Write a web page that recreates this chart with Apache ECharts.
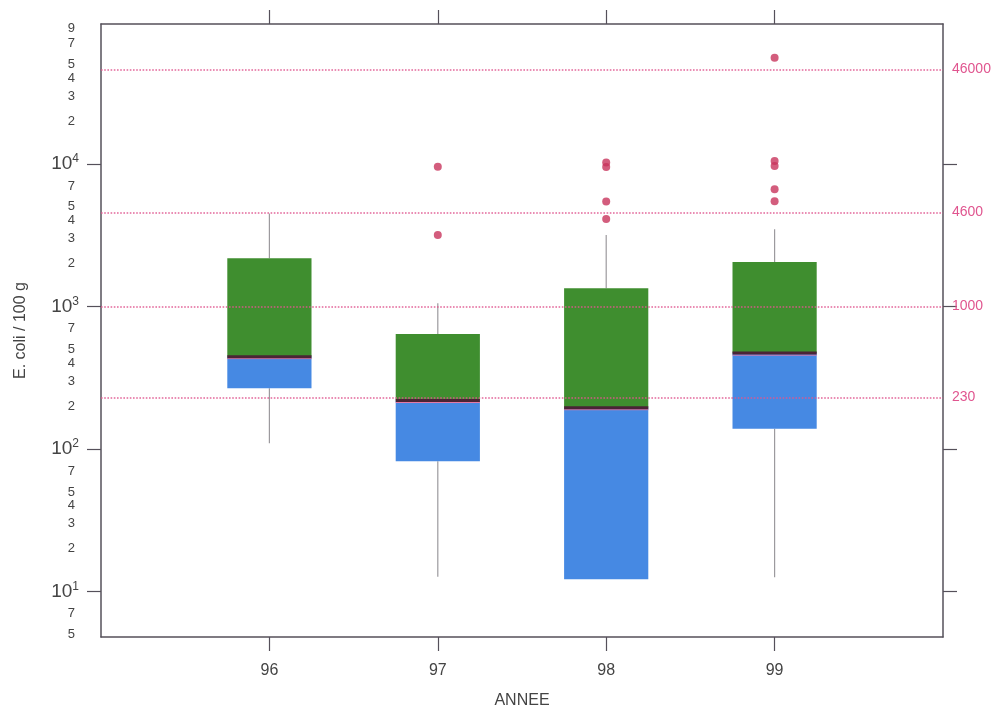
<!DOCTYPE html>
<html>
<head>
<meta charset="utf-8">
<script src="https://cdn.jsdelivr.net/npm/echarts@6/dist/echarts.min.js"></script>
<style>
  html, body { margin: 0; padding: 0; background: #ffffff; }
  #chart { width: 1003px; height: 714px; }
</style>
</head>
<body>
<div id="chart"></div>
<script>
// ---- data (raw values, E. coli / 100 g) ----
const categories = [96, 97, 98, 99];
const whiskerLow  = [110, 12.7, 12.2, 12.6];
const q1          = [267, 82, 12.2, 139];
const median      = [445, 219, 195, 471];
const q3          = [2180, 642, 1344, 2050];
const whiskerHigh = [4500, 1055, 3180, 3480];
const outlierYear  = [97, 97, 98, 98, 98, 98, 99, 99, 99, 99, 99];
const outlierValue = [9580, 3180, 10250, 9530, 5450, 4110, 55600, 10500, 9690, 6660, 5470];

const refValues = [230, 1000, 4600, 46000];            // dotted reference lines (right labels)
const leftTickLabels = [5, 7, 10, 20, 30, 40, 50, 70, 100, 200, 300, 400, 500, 700,
                        1000, 2000, 3000, 4000, 5000, 7000, 10000,
                        20000, 30000, 40000, 50000, 70000, 90000];
const decadeTicks = [10, 100, 1000, 10000];
const yRange = [4.8, 96000];
const xRange = [95, 100];

// ---- style ----
const GREEN = '#3f8e2f';
const BLUE = '#4689e3';
const MEDIAN = '#4a2436';
const PINK = '#e0558f';
const OUTLIER = '#c8345c';
const AXIS = '#55505a';
const TEXT = '#444444';
const BOX_WIDTH = 0.5;

const L = v => Math.log10(v);

const boxData = categories.map((c, i) => [c, L(whiskerLow[i]), L(q1[i]), L(median[i]), L(q3[i]), L(whiskerHigh[i])]);
const outlierData = outlierYear.map((c, i) => [c, L(outlierValue[i])]);

function renderBox(params, api) {
  const x = api.value(0);
  const lo = api.coord([x, api.value(1)]);
  const b1 = api.coord([x, api.value(2)]);
  const md = api.coord([x, api.value(3)]);
  const b3 = api.coord([x, api.value(4)]);
  const hi = api.coord([x, api.value(5)]);
  const w = api.size([BOX_WIDTH, 0])[0];
  const cx = lo[0];
  const wStyle = { stroke: '#9c9a9e', lineWidth: 1.2 };
  return {
    type: 'group',
    children: [
      { type: 'line', shape: { x1: cx, y1: b1[1], x2: cx, y2: lo[1] }, style: wStyle },
      { type: 'line', shape: { x1: cx, y1: b3[1], x2: cx, y2: hi[1] }, style: wStyle },
      { type: 'rect', shape: { x: cx - w / 2, y: md[1], width: w, height: b1[1] - md[1] }, style: { fill: BLUE } },
      { type: 'rect', shape: { x: cx - w / 2, y: b3[1], width: w, height: md[1] - b3[1] }, style: { fill: GREEN } },
      { type: 'line', shape: { x1: cx - w / 2, y1: md[1] + 2, x2: cx + w / 2, y2: md[1] + 2 }, style: { stroke: '#e67aa6', lineWidth: 1 } },
      { type: 'line', shape: { x1: cx - w / 2, y1: md[1], x2: cx + w / 2, y2: md[1] }, style: { stroke: MEDIAN, lineWidth: 3 } }
    ]
  };
}

function leftFormatter(v) {
  const raw = Math.round(Math.pow(10, v));
  const e = Math.floor(v + 1e-9);
  const mant = Math.round(raw / Math.pow(10, e));
  if (mant === 1) return '{b|10}{s|' + e + '}';
  return '{m|' + mant + '}';
}

const chart = echarts.init(document.getElementById('chart'));
chart.setOption({
  animation: false,
  backgroundColor: '#ffffff',
  textStyle: { fontFamily: 'Liberation Sans, Arial, sans-serif' },
  grid: { left: 101, width: 842, top: 24, height: 613 },
  xAxis: [
    {
      type: 'value', position: 'bottom', min: xRange[0], max: xRange[1],
      name: 'ANNEE', nameLocation: 'middle', nameGap: 56,
      nameTextStyle: { fontSize: 16, color: TEXT },
      axisLine: { show: true, lineStyle: { color: AXIS, width: 1.5 } },
      axisTick: { show: true, inside: false, length: 14, customValues: categories, lineStyle: { color: AXIS, width: 1.2 } },
      axisLabel: { customValues: categories, margin: 26, fontSize: 16, color: TEXT },
      splitLine: { show: false }
    },
    {
      type: 'value', position: 'top', min: xRange[0], max: xRange[1],
      axisLine: { show: true, lineStyle: { color: AXIS, width: 1.5 } },
      axisTick: { show: true, inside: false, length: 14, customValues: categories, lineStyle: { color: AXIS, width: 1.2 } },
      axisLabel: { show: false },
      splitLine: { show: false }
    }
  ],
  yAxis: [
    {
      type: 'value', position: 'left', min: L(yRange[0]), max: L(yRange[1]),
      name: 'E. coli / 100 g', nameLocation: 'middle', nameGap: 72, nameRotate: 90,
      nameTextStyle: { fontSize: 16, color: TEXT },
      axisLine: { show: true, lineStyle: { color: AXIS, width: 1.5 } },
      axisTick: { show: true, inside: false, length: 14, customValues: decadeTicks.map(L), lineStyle: { color: AXIS, width: 1.2 } },
      axisLabel: {
        customValues: leftTickLabels.map(L), margin: 22, align: 'right',
        formatter: leftFormatter,
        rich: {
          b: { fontSize: 19, color: TEXT },
          s: { fontSize: 12, color: TEXT, verticalAlign: 'bottom', padding: [0, 0, 10, 0] },
          m: { fontSize: 13, color: TEXT, padding: [0, 4, 0, 0] }
        }
      },
      splitLine: { show: false }
    },
    {
      type: 'value', position: 'right', min: L(yRange[0]), max: L(yRange[1]),
      axisLine: { show: true, lineStyle: { color: AXIS, width: 1.5 } },
      axisTick: { show: true, inside: false, length: 14, customValues: decadeTicks.map(L), lineStyle: { color: AXIS, width: 1.2 } },
      axisLabel: {
        customValues: refValues.map(L), margin: 9, fontSize: 14, color: PINK,
        formatter: v => String(Math.round(Math.pow(10, v)))
      },
      splitLine: { show: false }
    }
  ],
  series: [
    {
      type: 'custom', name: 'box', xAxisIndex: 0, yAxisIndex: 0,
      renderItem: renderBox, data: boxData, z: 2,
      markLine: {
        silent: true, symbol: 'none', label: { show: false },
        lineStyle: { color: PINK, type: 'dotted', width: 1.6, opacity: 0.9 },
        data: refValues.map(v => ({ yAxis: L(v) }))
      }
    },
    {
      type: 'scatter', name: 'outliers', xAxisIndex: 0, yAxisIndex: 0,
      data: outlierData, symbol: 'circle', symbolSize: 8, z: 6,
      itemStyle: { color: OUTLIER }
    }
  ]
});
</script>
</body>
</html>
